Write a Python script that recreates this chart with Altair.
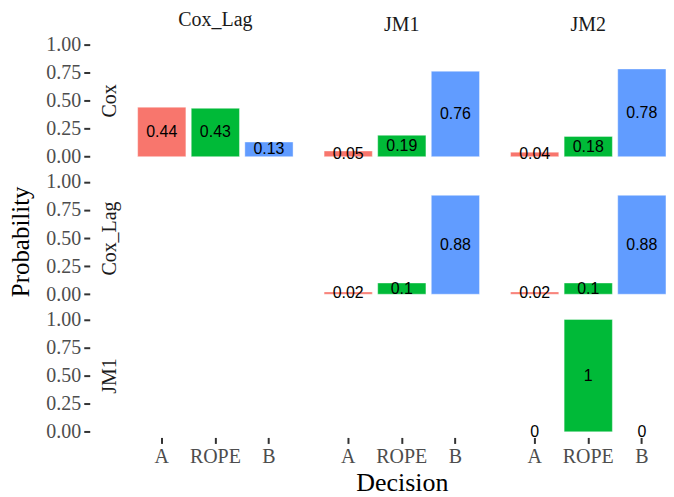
import altair as alt
import pandas as pd

# Decision outcomes on the x axis and the two facet dimensions
decisions = ["A", "ROPE", "B"]
row_models = ["Cox", "Cox_Lag", "JM1"]
col_models = ["Cox_Lag", "JM1", "JM2"]

# Probability of each decision (A, ROPE, B) for a model pair
cox_vs_cox_lag = [0.44, 0.43, 0.13]
cox_vs_jm1 = [0.05, 0.19, 0.76]
cox_vs_jm2 = [0.04, 0.18, 0.78]
cox_lag_vs_jm1 = [0.02, 0.10, 0.88]
cox_lag_vs_jm2 = [0.02, 0.10, 0.88]
jm1_vs_jm2 = [0.0, 1.0, 0.0]

pairs = {
    ("Cox", "Cox_Lag"): cox_vs_cox_lag,
    ("Cox", "JM1"): cox_vs_jm1,
    ("Cox", "JM2"): cox_vs_jm2,
    ("Cox_Lag", "JM1"): cox_lag_vs_jm1,
    ("Cox_Lag", "JM2"): cox_lag_vs_jm2,
    ("JM1", "JM2"): jm1_vs_jm2,
}

decision_colors = ["#F8766D", "#00BA38", "#619CFF"]

records = []
for (r, c), probs in pairs.items():
    for d, p in zip(decisions, probs):
        records.append({"row": r, "col": c, "decision": d, "prob": p,
                        "label": f"{p:g}"})
df = pd.DataFrame(records)

SERIF = "Liberation Serif"
SANS = "Liberation Sans"
PW, PH = 172, 124

xscale = alt.Scale(domain=decisions, paddingInner=0.1, paddingOuter=0.15)
yscale = alt.Scale(domain=[-0.05, 1.05], nice=False, zero=False)
cscale = alt.Scale(domain=decisions, range=decision_colors)


def y_axis(row_name):
    return alt.Axis(
        values=[0, 0.25, 0.5, 0.75, 1], format=".2f", offset=40,
        title=row_name, titleX=20, titleY=PH / 2, titleAngle=270,
        titleAlign="center", titleBaseline="middle",
        titleFont=SERIF, titleFontSize=20, titleFontWeight="normal",
        titleColor="#1A1A1A",
        labelFont=SERIF, labelFontSize=20, labelColor="#4D4D4D",
        labelPadding=3, domain=False, grid=False,
        tickColor="#333333", tickSize=6, tickWidth=2,
    )


def x_axis(title):
    return alt.Axis(
        title=title, titleFont=SERIF, titleFontSize=26,
        titleFontWeight="normal", titleColor="black", titlePadding=3,
        labelFont=SERIF, labelFontSize=20, labelColor="#4D4D4D",
        labelAngle=0, labelPadding=3, domain=False, grid=False,
        tickColor="#333333", tickSize=6, tickWidth=2,
    )


def panel(i, j):
    r, c = row_models[i], col_models[j]
    base = alt.Chart(df).transform_filter(
        (alt.datum.row == r) & (alt.datum.col == c)
    )
    xa = x_axis("Decision" if j == 1 else None) if i == 2 else None
    ya = y_axis(r) if j == 0 else None
    bars = base.mark_bar(stroke="white", strokeWidth=1, strokeOpacity=0.4).encode(
        x=alt.X("decision:N", scale=xscale, sort=decisions, axis=xa),
        y=alt.Y("prob:Q", scale=yscale, axis=ya),
        y2=alt.datum(0),
        color=alt.Color("decision:N", scale=cscale, legend=None),
    )
    labels = base.transform_calculate(mid="datum.prob / 2").mark_text(
        font=SANS, fontSize=16, color="black", align="center", baseline="middle"
    ).encode(
        x=alt.X("decision:N", scale=xscale, sort=decisions, axis=xa),
        y=alt.Y("mid:Q", scale=yscale, axis=ya),
        text="label:N",
    )
    ch = alt.layer(bars, labels).properties(width=PW, height=PH)
    if i == 0:
        ch = ch.properties(title=alt.TitleParams(
            c, font=SERIF, fontSize=20, fontWeight="normal",
            color="#1A1A1A", anchor="middle", offset=4,
        ))
    return ch


rows = [alt.hconcat(*[panel(i, j) for j in range(3)], spacing=15)
        for i in range(3)]

chart = alt.vconcat(*rows, spacing=4).properties(
    title=alt.TitleParams(
        "Probability", orient="left", anchor="middle", font=SERIF,
        fontSize=25, fontWeight="normal", color="black", offset=12, dx=11,
    ),
    padding={"left": 9, "top": 9, "right": 0, "bottom": 0},
).configure_view(stroke=None)

chart.save("out.html", embed_options={"renderer": "svg", "actions": False})
